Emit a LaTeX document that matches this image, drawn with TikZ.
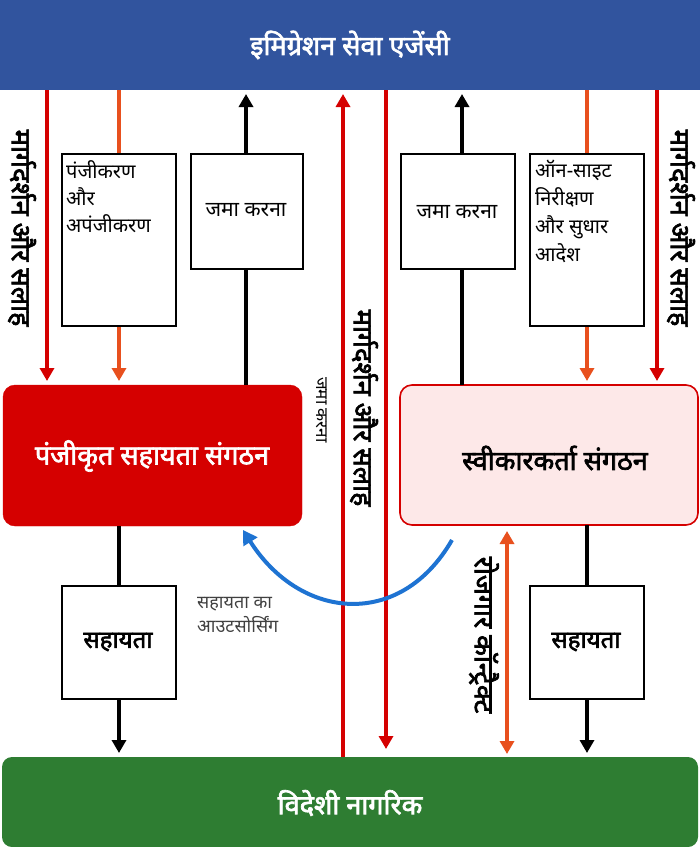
\documentclass[tikz,border=0pt]{standalone}
\usepackage{fontspec}
\newfontfamily\dev[Script=Devanagari]{Noto Sans}
\newfontfamily\devb[Script=Devanagari,FakeBold=2.5]{Noto Sans}
\usetikzlibrary{arrows.meta}
\definecolor{topblue}{HTML}{31549E}
\definecolor{botgreen}{HTML}{2E7D32}
\definecolor{rred}{HTML}{D50000}
\definecolor{oorange}{HTML}{E8501E}
\definecolor{pink}{HTML}{FDE8E8}
\definecolor{cblue}{HTML}{1E73D2}
\tikzset{
 ar/.style={line width=4pt,-{Triangle[width=14pt,length=13pt]}},
 redar/.style={ar,draw=rred},
 orar/.style={ar,draw=oorange},
 blar/.style={ar,draw=black},
 wbox/.style={draw=black,line width=1.6pt,fill=white,anchor=north west,inner sep=0pt},
 lbl/.style={font=\dev\fontsize{21}{25}\selectfont},
 vlbl/.style={font=\devb\fontsize{27}{30}\selectfont,rotate=-90},
 big/.style={font=\devb\fontsize{27}{30}\selectfont},
}
\begin{document}
\begin{tikzpicture}[x=1pt,y=-1pt]
\useasboundingbox (0,0) rectangle (700,847);
% bars
\fill[topblue] (0,0) rectangle (700,90);
\node[big,text=white] (top) at (350,45) {इमिग्रेशन सेवा एजेंसी};
\fill[botgreen,rounded corners=10pt] (2,757) rectangle (698,847);
\node[big,text=white] (bot) at (350,803) {विदेशी नागरिक};
% org boxes
\draw[fill=rred,draw=rred,rounded corners=12pt] (3,385) rectangle (302,526);
\node[big,text=white] (reg) at (152,456) {पंजीकृत सहायता संगठन};
\draw[fill=pink,draw=rred,line width=1.6pt,rounded corners=12pt] (400,385) rectangle (698,525);
\node[big] (acc) at (555,458) {स्वीकारकर्ता संगठन};
% coordinates
\coordinate (a1s) at (47,90); \coordinate (a1e) at (47,381);
\coordinate (a2s) at (119,90); \coordinate (a2e) at (119,381);
\coordinate (a3s) at (246,385); \coordinate (a3e) at (246,94);
\coordinate (a4s) at (343,757); \coordinate (a4e) at (343,94);
\coordinate (a5s) at (386,90); \coordinate (a5e) at (386,749);
\coordinate (a6s) at (462,385); \coordinate (a6e) at (462,94);
\coordinate (a7s) at (587,90); \coordinate (a7e) at (587,381);
\coordinate (a8s) at (657,90); \coordinate (a8e) at (657,381);
\coordinate (b1s) at (119,526); \coordinate (b1e) at (119,753);
\coordinate (b2s) at (587,525); \coordinate (b2e) at (587,753);
\coordinate (c1s) at (507,531); \coordinate (c1e) at (507,754);
\coordinate (cs) at (452,540); \coordinate (ce) at (243,530);
% arrows
\draw[redar] (a1s) -- (a1e);
\draw[orar] (a2s) -- (a2e);
\draw[blar] (a3s) -- (a3e);
\draw[redar] (a4s) -- (a4e);
\draw[redar] (a5s) -- (a5e);
\draw[blar] (a6s) -- (a6e);
\draw[orar] (a7s) -- (a7e);
\draw[redar] (a8s) -- (a8e);
\draw[blar] (b1s) -- (b1e);
\draw[blar] (b2s) -- (b2e);
\draw[line width=4pt,draw=oorange,{Triangle[width=14pt,length=13pt]}-{Triangle[width=14pt,length=13pt]}] (c1s) -- (c1e);
\draw[line width=4pt,draw=cblue,-{Triangle[width=16pt,length=14pt]}] (cs) .. controls (400,630) and (300,620) .. (ce);
% boxes
\node[wbox,minimum width=114pt,minimum height=172pt] (bx1) at (61,153) {};
\node[lbl,anchor=north west,align=left,inner sep=0pt,font=\dev\fontsize{20}{27}\selectfont] (t1) at (66,160) {पंजीकरण\\और\\अपंजीकरण};
\node[wbox,minimum width=112pt,minimum height=115pt] (bx2) at (190,153) {};
\node[lbl] (t2) at (246,210) {जमा करना};
\node[wbox,minimum width=114pt,minimum height=115pt] (bx3) at (400,153) {};
\node[lbl] (t3) at (457,212) {जमा करना};
\node[wbox,minimum width=114pt,minimum height=172pt] (bx4) at (529,153) {};
\node[lbl,anchor=north west,align=left,inner sep=0pt,font=\dev\fontsize{20}{28}\selectfont] (t4) at (535,160) {ऑन-साइट\\निरीक्षण\\और सुधार\\आदेश};
\node[wbox,minimum width=114pt,minimum height=113pt] (bx5) at (61,585) {};
\node[big,font=\devb\fontsize{24}{28}\selectfont] (t5) at (118,642) {सहायता};
\node[wbox,minimum width=114pt,minimum height=113pt] (bx6) at (529,585) {};
\node[big,font=\devb\fontsize{24}{28}\selectfont] (t6) at (586,642) {सहायता};
% vertical labels
\node[vlbl] (v1) at (22,228) {मार्गदर्शन और सलाह};
\node[vlbl] (v2) at (681,228) {मार्गदर्शन और सलाह};
\node[vlbl] (v3) at (364,408) {मार्गदर्शन और सलाह};
\node[font=\dev\fontsize{17}{20}\selectfont,rotate=-90] (v4) at (322,410) {जमा करना};
\node[vlbl] (v5) at (484,635) {रोजगार कॉन्ट्रैक्ट};
\node[font=\dev\fontsize{18}{24}\selectfont,text=black!75,align=left,anchor=north west,inner sep=0pt] (out) at (197,597) {सहायता का\\आउटसोर्सिंग};
\end{tikzpicture}
\end{document}
